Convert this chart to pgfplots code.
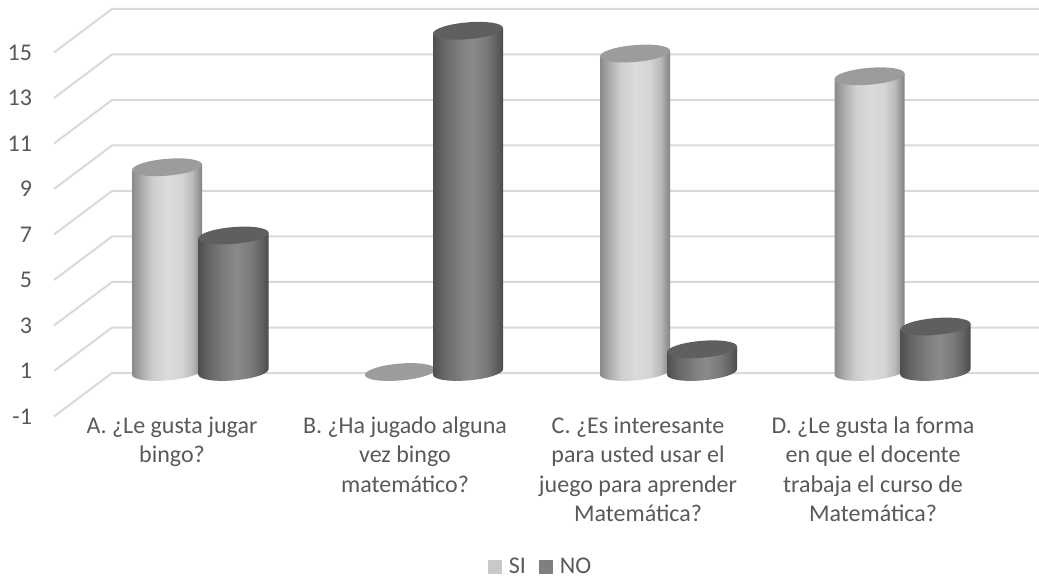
\documentclass[border=0pt]{standalone}
\usepackage{fontspec}
\setmainfont{Carlito}
\usepackage{pgfplots}
\usepackage{pgfplotstable}
\pgfplotsset{compat=1.18}

\definecolor{txt}{HTML}{595959}
\definecolor{gridc}{HTML}{D9D9D9}
\definecolor{topSI}{HTML}{9C9C9C}
\definecolor{topNO}{HTML}{5F5F5F}
\definecolor{legSI}{HTML}{C9C9C9}
\definecolor{legNO}{HTML}{7F7F7F}

% Horizontal lighting across a cylinder; the body spans 25bp to 75bp.
\definecolor{sa}{HTML}{8A8A8A}\definecolor{sb}{HTML}{B0B0B0}
\definecolor{sc}{HTML}{CFCFCF}\definecolor{sd}{HTML}{DCDADA}
\definecolor{se}{HTML}{D5D5D5}\definecolor{sf}{HTML}{BCBCBC}
\definecolor{sg}{HTML}{808080}
\pgfdeclarehorizontalshading{cylshadeSI}{100bp}{
  color(0bp)=(sa); color(25bp)=(sa); color(32.5bp)=(sb); color(40bp)=(sc);
  color(50bp)=(sd); color(60bp)=(se); color(67.5bp)=(sf); color(75bp)=(sg);
  color(100bp)=(sg)}
\definecolor{na}{HTML}{4F4F4F}\definecolor{nb}{HTML}{666666}
\definecolor{nc}{HTML}{808080}\definecolor{nd}{HTML}{8A8A8A}
\definecolor{ne}{HTML}{7A7A7A}\definecolor{nf}{HTML}{606060}
\definecolor{ng}{HTML}{4A4A4A}
\pgfdeclarehorizontalshading{cylshadeNO}{100bp}{
  color(0bp)=(na); color(25bp)=(na); color(32.5bp)=(nb); color(45bp)=(nc);
  color(52.5bp)=(nd); color(62.5bp)=(ne); color(70bp)=(nf); color(75bp)=(ng);
  color(100bp)=(ng)}

% Tilted cylinder standing on value 0, with its top at the data point.
% 17.0625pt is the height of one unit on the y axis.
\newcommand\declarecylinder[3]{%
  \pgfdeclareplotmark{#1}{%
    \pgfmathsetmacro\cylh{\cylv*17.0625}%
    \pgfpathmoveto{\pgfpoint{-26.25pt}{-2.2pt}}%
    \pgfpathlineto{\pgfpoint{-26.25pt}{-2.2pt-\cylh pt}}%
    \pgfpathcurveto{\pgfpoint{-25.96pt}{-5.7pt-\cylh pt}}%
                   {\pgfpoint{-13.98pt}{-7.5pt-\cylh pt}}%
                   {\pgfpoint{0.52pt}{-6.28pt-\cylh pt}}%
    \pgfpathcurveto{\pgfpoint{15.02pt}{-5.05pt-\cylh pt}}%
                   {\pgfpoint{26.54pt}{-1.3pt-\cylh pt}}%
                   {\pgfpoint{26.25pt}{2.2pt-\cylh pt}}%
    \pgfpathlineto{\pgfpoint{26.25pt}{2.2pt}}%
    \pgfpathclose
    \pgfshadepath{#2}{0}%
    \pgfusepath{discard}%
    \pgftransformrotate{4.8}%
    \pgfsetfillcolor{#3}%
    \pgfpathellipse{\pgfpointorigin}{\pgfqpoint{26.35pt}{0pt}}{\pgfqpoint{0pt}{6.3pt}}%
    \pgfusepath{fill}%
  }%
}
\declarecylinder{cylSI}{cylshadeSI}{topSI}
\declarecylinder{cylNO}{cylshadeNO}{topNO}

\pgfplotstableread{
xsi   si  xno    no
167   9   233.5  6
400   0   468    15
635   14  702    1
869.5 13  935.5  2
}\surveydata

\begin{document}
\begin{tikzpicture}
\useasboundingbox (0,0) rectangle (779.25pt,433.5pt);
\begin{axis}[
  at={(40.5pt,121.125pt)}, anchor=south west,
  scale only axis, width=738.75pt, height=305.625pt,
  xmin=54, xmax=1039, ymin=-1.956, ymax=15.956,
  clip=false,
  axis line style={draw=none},
  tick style={draw=none},
  major tick length=0pt,
  xtick={172,405,638,873},
  xticklabels={
    {A. ¿Le gusta jugar\\bingo?},
    {B. ¿Ha jugado alguna\\vez bingo\\matemático?},
    {C. ¿Es interesante\\para usted usar el\\juego para aprender\\Matemática?},
    {D. ¿Le gusta la forma\\en que el docente\\trabaja el curso de\\Matemática?}},
  xticklabel style={align=center, text=txt, anchor=north, yshift=3.4pt,
    font=\fontsize{18}{22.1}\selectfont},
  ytick={-1,1,3,5,7,9,11,13,15},
  yticklabels={-1,1,3,5,7,9,11,13,15},
  yticklabel style={text=txt, anchor=east, yshift=-16.3pt, xshift=-13pt,
    font=\fontsize{18}{20}\selectfont},
  legend style={at={(axis cs:541,-8.57)}, anchor=center, draw=none, fill=none,
    legend columns=2, text=txt, font=\fontsize{18}{20}\selectfont,
    /tikz/every odd column/.append style={column sep=3pt},
    /tikz/every even column/.append style={column sep=8pt}},
  legend image code/.code={\fill[#1] (0pt,-5.25pt) rectangle (10.5pt,5.25pt);},
]
% Gridlines: front edge, back corner, then along the back wall
\addplot[gridc, line width=1.5pt, forget plot] coordinates {(54,14.044) (112,15.956) (1039,15.956)};
\addplot[gridc, line width=1.5pt, forget plot] coordinates {(54,12.044) (112,13.956) (1039,13.956)};
\addplot[gridc, line width=1.5pt, forget plot] coordinates {(54,10.044) (112,11.956) (1039,11.956)};
\addplot[gridc, line width=1.5pt, forget plot] coordinates {(54,8.044) (112,9.956) (1039,9.956)};
\addplot[gridc, line width=1.5pt, forget plot] coordinates {(54,6.044) (112,7.956) (1039,7.956)};
\addplot[gridc, line width=1.5pt, forget plot] coordinates {(54,4.044) (112,5.956) (1039,5.956)};
\addplot[gridc, line width=1.5pt, forget plot] coordinates {(54,2.044) (112,3.956) (1039,3.956)};
\addplot[gridc, line width=1.5pt, forget plot] coordinates {(54,0.044) (112,1.956) (1039,1.956)};
\addplot[gridc, line width=1.5pt, forget plot] coordinates {(54,-1.956) (112,-0.044) (1039,-0.044)};

% Cylinders
\addplot[scatter, only marks, mark=cylSI, forget plot,
  visualization depends on={rawy \as \cylv}]
  table[x=xsi, y=si] {\surveydata};
\addplot[scatter, only marks, mark=cylNO, forget plot,
  visualization depends on={rawy \as \cylv}]
  table[x=xno, y=no] {\surveydata};

\addlegendimage{legSI, draw=none, fill=legSI}
\addlegendentry{SI}
\addlegendimage{legNO, draw=none, fill=legNO}
\addlegendentry{NO}
\end{axis}
\end{tikzpicture}
\end{document}
